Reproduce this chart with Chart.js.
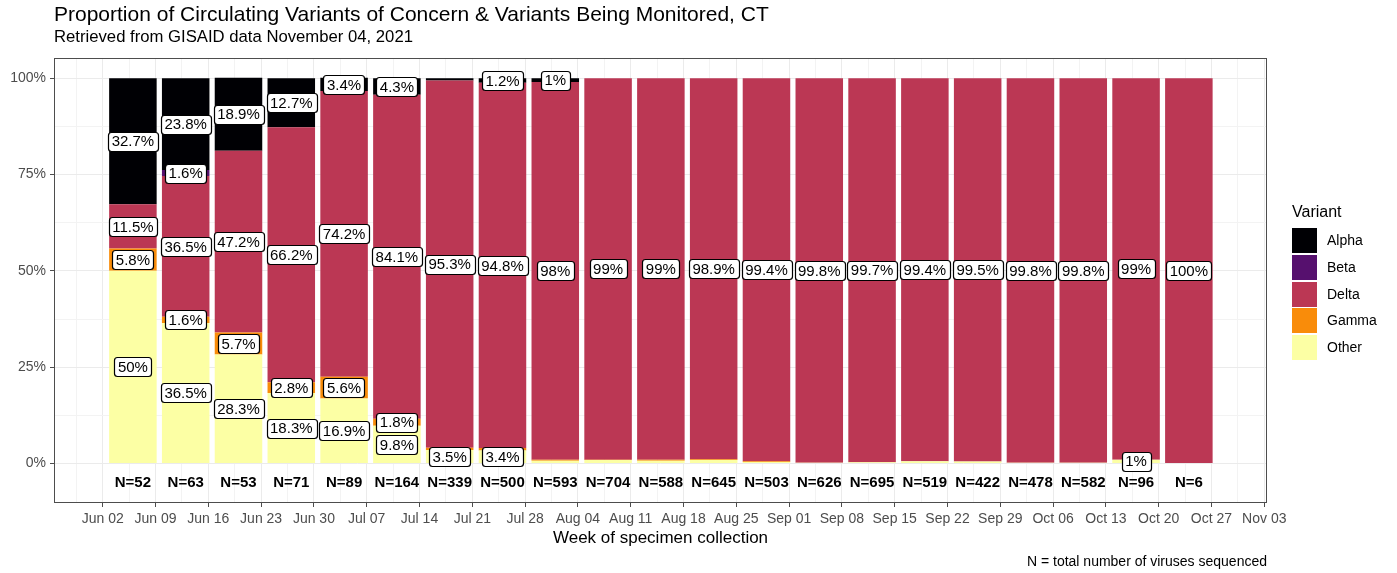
<!DOCTYPE html>
<html><head><meta charset="utf-8">
<script src="https://cdn.jsdelivr.net/npm/chart.js@4/dist/chart.umd.min.js"></script>
<style>html,body{margin:0;padding:0;background:#fff;}#wrap{width:1397px;height:573px;position:relative}</style>
</head><body><div id="wrap"><canvas id="c" width="1397" height="573"></canvas></div>
<script>
// ---- data ----
const weeks = ["2021-06-06","2021-06-13","2021-06-20","2021-06-27","2021-07-04","2021-07-11","2021-07-18","2021-07-25","2021-08-01","2021-08-08","2021-08-15","2021-08-22","2021-08-29","2021-09-05","2021-09-12","2021-09-19","2021-09-26","2021-10-03","2021-10-10","2021-10-17","2021-10-24"];
const sampleSizes = [52,63,53,71,89,164,339,500,593,704,588,645,503,626,695,519,422,478,582,96,6];
const alpha = [32.7,23.8,18.9,12.7,3.4,4.3,0.6,1.2,1,0,0,0,0,0,0,0,0,0,0,0,0];
const beta  = [0,1.6,0,0,0,0,0,0,0,0,0,0,0,0,0,0,0,0,0,0,0];
const delta = [11.5,36.5,47.2,66.2,74.2,84.1,95.3,94.8,98,99,99,98.9,99.4,99.8,99.7,99.4,99.5,99.8,99.8,99,100];
const gamma = [5.8,1.6,5.7,2.8,5.6,1.8,0.6,0.6,0.3,0.1,0.3,0.2,0.2,0,0,0,0,0,0,0,0];
const other = [50,36.5,28.3,18.3,16.9,9.8,3.5,3.4,0.7,0.9,0.7,0.9,0.4,0.2,0.3,0.6,0.5,0.2,0.2,1,0];
const xTickLabels = ["Jun 02","Jun 09","Jun 16","Jun 23","Jun 30","Jul 07","Jul 14","Jul 21","Jul 28","Aug 04","Aug 11","Aug 18","Aug 25","Sep 01","Sep 08","Sep 15","Sep 22","Sep 29","Oct 06","Oct 13","Oct 20","Oct 27","Nov 03"];
const yTickLabels = ["0%","25%","50%","75%","100%"];
const variantNames = ["Other","Gamma","Delta","Beta","Alpha"];
const variantColors = ["#FCFFA4","#F98C0A","#BB3754","#56106E","#000004"];

// ---- helpers ----
const FONT = "'Liberation Sans', Arial, sans-serif";
const origin = Date.UTC(2021,5,2);
const dayOf = s => { const p = s.split('-').map(Number); return (Date.UTC(p[0],p[1]-1,p[2]) - origin)/864e5; };
const xs = weeks.map(dayOf);
const series = [other, gamma, delta, beta, alpha];

// The bar ruler uses the half-week (minor grid) tick spacing, so 1.8 of it = 0.9 of a week.
const datasets = series.map((arr, k) => ({
  label: variantNames[k],
  data: arr.map((v, i) => ({x: xs[i], y: v})),
  backgroundColor: variantColors[k],
  borderWidth: 0,
  categoryPercentage: 1,
  barPercentage: 1.8
}));

function roundRect(ctx, x, y, w, h, r) {
  ctx.beginPath();
  ctx.moveTo(x + r, y);
  ctx.lineTo(x + w - r, y); ctx.quadraticCurveTo(x + w, y, x + w, y + r);
  ctx.lineTo(x + w, y + h - r); ctx.quadraticCurveTo(x + w, y + h, x + w - r, y + h);
  ctx.lineTo(x + r, y + h); ctx.quadraticCurveTo(x, y + h, x, y + h - r);
  ctx.lineTo(x, y + r); ctx.quadraticCurveTo(x, y, x + r, y);
  ctx.closePath();
}

const decor = {
  id: 'decor',
  afterDatasetsDraw(chart) {
    const ctx = chart.ctx;
    const ys = chart.scales.y, xsS = chart.scales.x;
    ctx.save();
    // value labels
    ctx.font = `15px ${FONT}`;
    ctx.textAlign = 'center'; ctx.textBaseline = 'middle';
    chart.data.datasets.forEach((ds, di) => {
      const meta = chart.getDatasetMeta(di);
      meta.data.forEach((el, i) => {
        const v = ds.data[i].y;
        if (v < 1) return;
        const txt = v + '%';
        const cy = (el.y + el.base) / 2;
        const w = ctx.measureText(txt).width + 7;
        const h = 19;
        roundRect(ctx, Math.round(el.x - w/2) + 0.5, Math.round(cy - h/2) + 0.5, Math.round(w), h, 3);
        ctx.fillStyle = '#fff'; ctx.fill();
        ctx.strokeStyle = '#000'; ctx.lineWidth = 1.2; ctx.stroke();
        ctx.fillStyle = '#000';
        ctx.fillText(txt, el.x, cy + 1);
      });
    });
    // N labels
    ctx.font = `bold 15px ${FONT}`;
    ctx.fillStyle = '#000';
    const ny = ys.getPixelForValue(-5);
    xs.forEach((x, i) => ctx.fillText('N=' + sampleSizes[i], xsS.getPixelForValue(x), ny));
    ctx.restore();
  },
  afterDraw(chart) {
    const ctx = chart.ctx, a = chart.chartArea;
    ctx.save();
    // panel border
    ctx.strokeStyle = '#4d4d4d'; ctx.lineWidth = 1;
    ctx.strokeRect(Math.round(a.left) + 0.5, Math.round(a.top) + 0.5, Math.round(a.right - a.left) - 1, Math.round(a.bottom - a.top) - 1);
    // titles
    ctx.fillStyle = '#000'; ctx.textAlign = 'left'; ctx.textBaseline = 'alphabetic';
    ctx.font = `21px ${FONT}`;
    ctx.fillText('Proportion of Circulating Variants of Concern & Variants Being Monitored, CT', 54, 21);
    ctx.font = `16.7px ${FONT}`;
    ctx.fillText('Retrieved from GISAID data November 04, 2021', 54, 42);
    // x axis title
    ctx.textAlign = 'center';
    ctx.font = `17px ${FONT}`;
    ctx.fillText('Week of specimen collection', (a.left + a.right) / 2, 543);
    // caption
    ctx.textAlign = 'right';
    ctx.font = `14px ${FONT}`;
    ctx.fillText('N = total number of viruses sequenced', a.right, 566);
    // legend
    ctx.textAlign = 'left';
    ctx.font = `16px ${FONT}`;
    ctx.fillText('Variant', 1292, 217);
    ctx.font = `14px ${FONT}`;
    ctx.textBaseline = 'middle';
    for (let j = 0; j < variantNames.length; j++) {
      const k = variantNames.length - 1 - j;
      const y0 = 228 + j * 26.8;
      ctx.fillStyle = variantColors[k];
      ctx.fillRect(1292, Math.round(y0), 25, 25);
      ctx.fillStyle = '#000';
      ctx.fillText(variantNames[k], 1327, Math.round(y0) + 13);
    }
    ctx.restore();
  }
};

new Chart(document.getElementById('c'), {
  type: 'bar',
  data: { datasets },
  options: {
    responsive: false,
    animation: false,
    devicePixelRatio: 1,
    layout: { padding: { top: 58, right: 130, left: 0, bottom: 0 } },
    plugins: { legend: { display: false }, tooltip: { enabled: false } },
    scales: {
      x: {
        type: 'linear', min: -6.46, max: 154.36, stacked: true, offset: false,
        afterBuildTicks(scale) {
          const t = [];
          for (let k = 0; k <= 45; k++) t.push({ value: -3.5 + 3.5 * k });
          scale.ticks = t;
        },
        afterFit(scale) { scale.height = 70; },
        grid: {
          offset: false,
          color: c => (c.tick && c.tick.value % 7 === 0) ? '#ebebeb' : '#f3f3f3',
          tickColor: c => (c.tick && c.tick.value % 7 === 0) ? '#4d4d4d' : 'rgba(0,0,0,0)',
          tickLength: 4, lineWidth: 1
        },
        border: { display: false },
        ticks: {
          autoSkip: false, maxRotation: 0, minRotation: 0, padding: 4,
          color: '#4d4d4d', font: { family: FONT, size: 14 },
          callback: v => (v % 7 === 0) ? xTickLabels[v / 7] : ''
        }
      },
      y: {
        type: 'linear', min: -10.25, max: 105.25, stacked: true,
        afterBuildTicks(scale) {
          const t = [];
          for (let k = 0; k <= 8; k++) t.push({ value: 12.5 * k });
          scale.ticks = t;
        },
        afterFit(scale) { scale.width = 54; },
        grid: {
          color: c => (c.tick && c.tick.value % 25 === 0) ? '#ebebeb' : '#f3f3f3',
          tickColor: c => (c.tick && c.tick.value % 25 === 0) ? '#4d4d4d' : 'rgba(0,0,0,0)',
          tickLength: 4, lineWidth: 1
        },
        border: { display: false },
        ticks: {
          autoSkip: false, padding: 4,
          color: '#4d4d4d', font: { family: FONT, size: 14 },
          callback: v => (v % 25 === 0) ? yTickLabels[v / 25] : ''
        }
      }
    }
  },
  plugins: [decor]
});
</script>
</body></html>
